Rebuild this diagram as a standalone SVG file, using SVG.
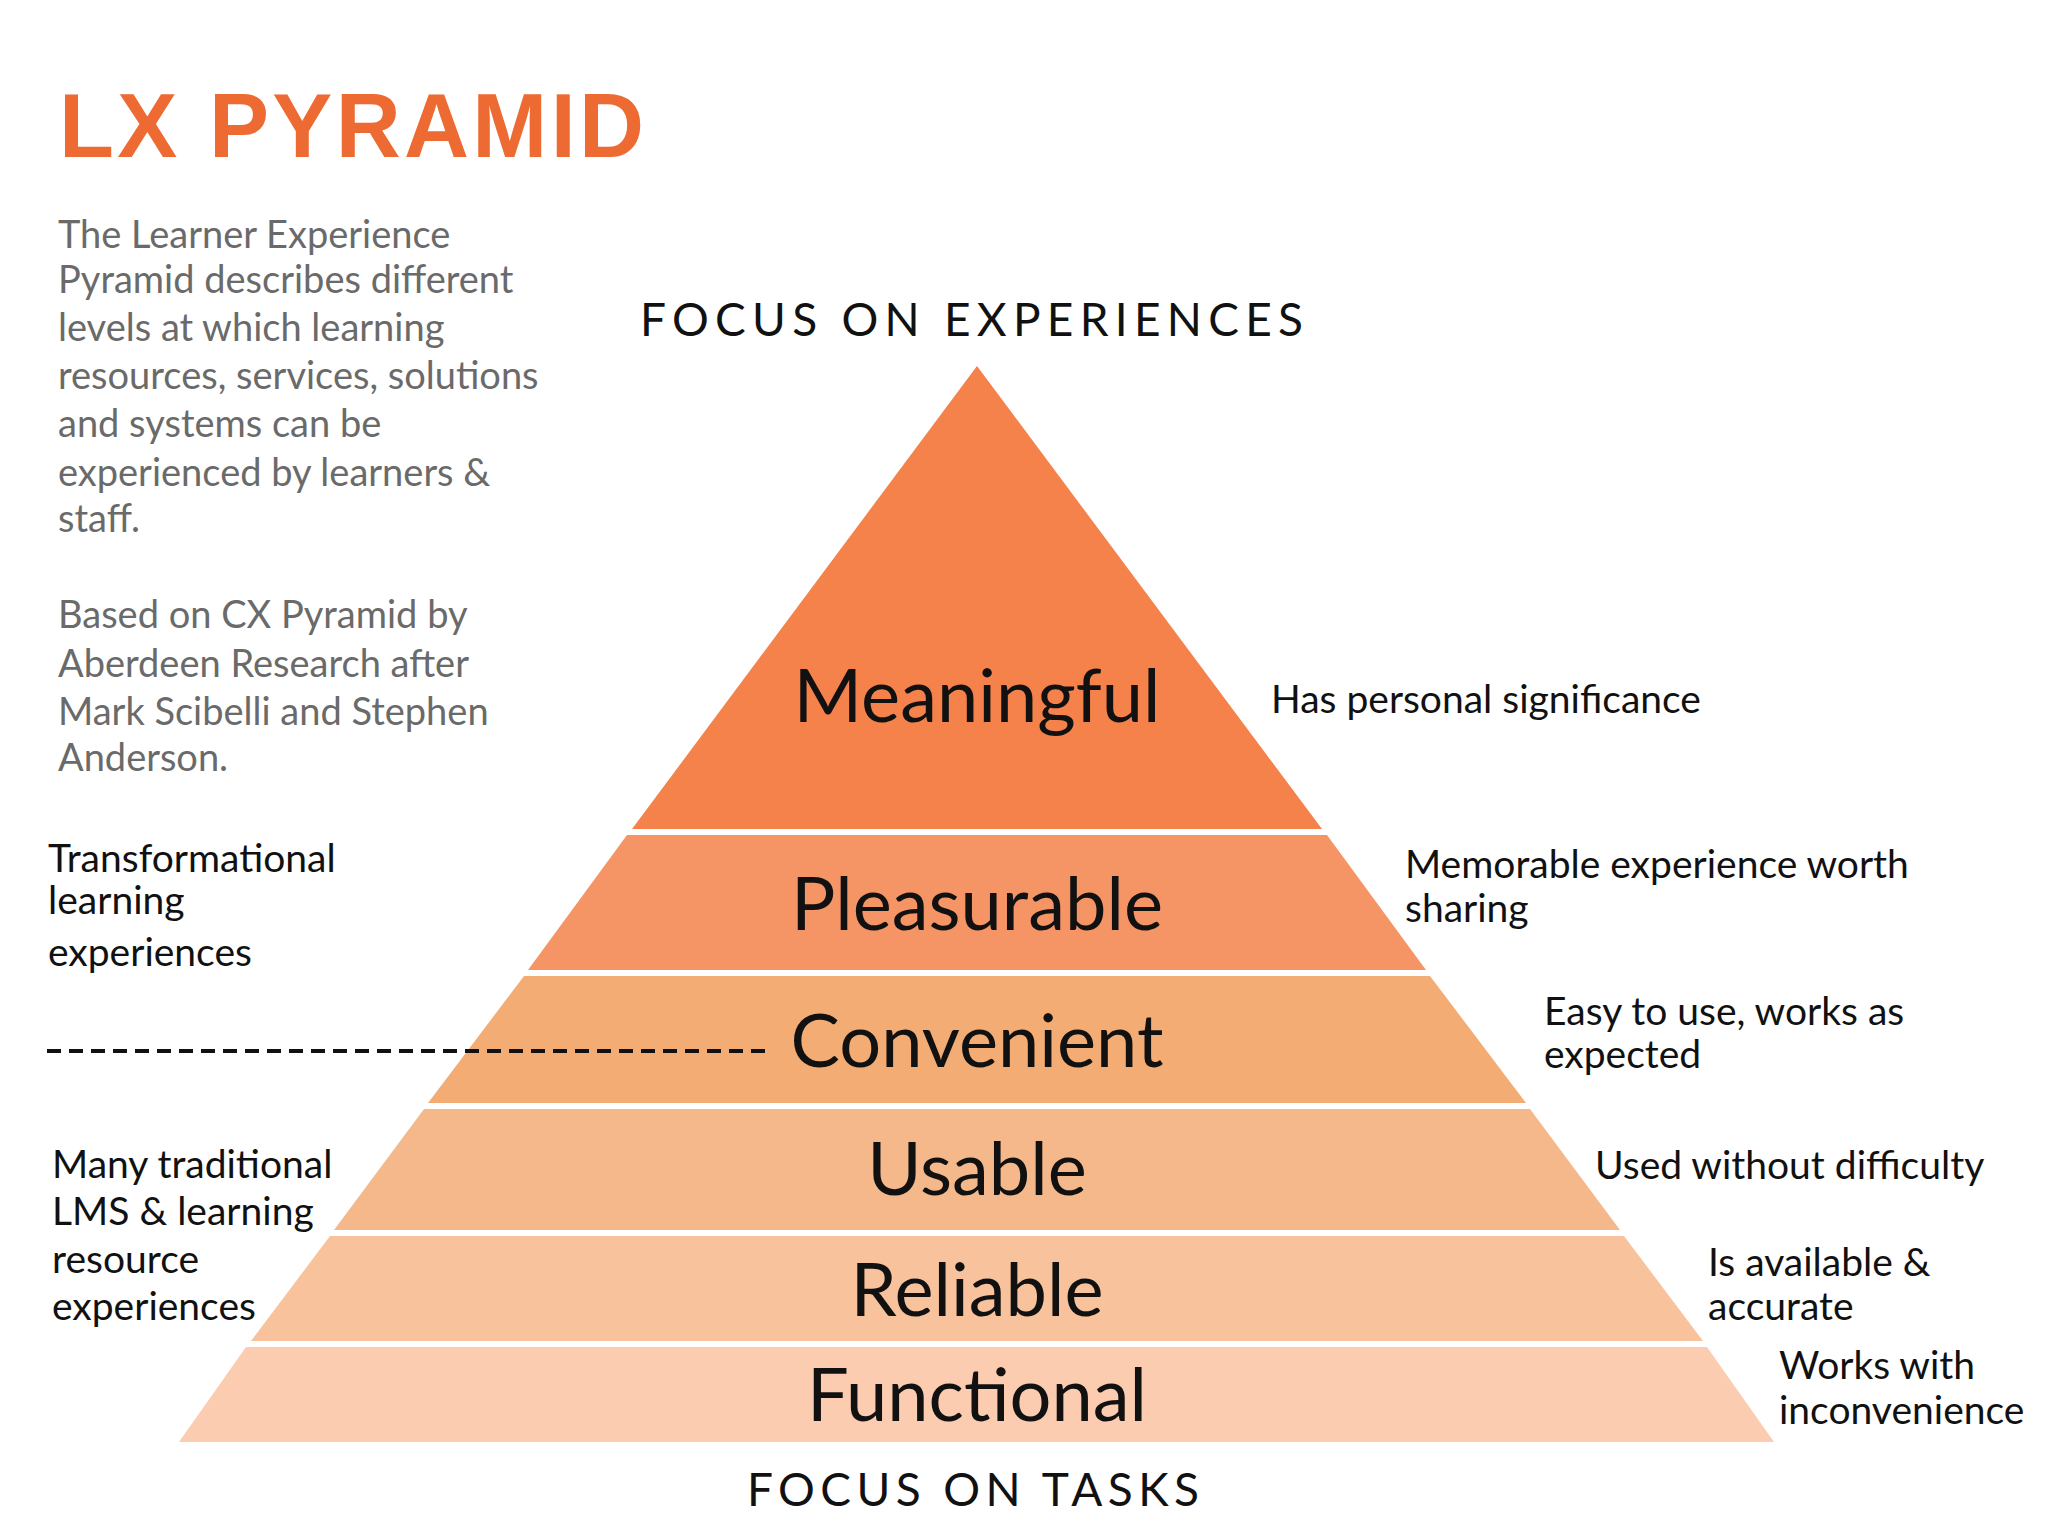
<svg xmlns="http://www.w3.org/2000/svg" width="2048" height="1536" viewBox="0 0 2048 1536">
<style>
text{font-family:Lato,"Noto Sans",sans-serif}
.t{fill:#EE6A33;font-weight:bold;font-size:90px;font-family:"Liberation Sans",Arial,sans-serif}
.d{fill:#6a6a6a;font-size:38px}
.h{fill:#111;font-size:46px}
.l{fill:#111;font-size:74px;text-anchor:middle}
.a{fill:#111;font-size:39px}
</style>
<rect width="2048" height="1536" fill="#fff"/>
<text class="t" x="59" y="157" textLength="585">LX PYRAMID</text>
<g id="desc">
<text class="d" x="58" y="248">The Learner Experience</text>
<text class="d" x="58" y="293">Pyramid describes different</text>
<text class="d" x="58" y="341">levels at which learning</text>
<text class="d" x="58" y="389">resources, services, solutions</text>
<text class="d" x="58" y="437">and systems can be</text>
<text class="d" x="58" y="486">experienced by learners &amp;</text>
<text class="d" x="58" y="532">staff.</text>
<text class="d" x="58" y="628">Based on CX Pyramid by</text>
<text class="d" x="58" y="677">Aberdeen Research after</text>
<text class="d" x="58" y="725">Mark Scibelli and Stephen</text>
<text class="d" x="58" y="771">Anderson.</text>
</g>
<text class="h" x="640" y="336" textLength="663">FOCUS ON EXPERIENCES</text>
<text class="h" x="747" y="1506" textLength="452">FOCUS ON TASKS</text>
<g id="meaningful"><polygon points="977,366 1322,829 632,829" fill="#F4824A"/><text class="l" x="977" y="722">Meaningful</text></g>
<g id="pleasurable"><polygon points="1327,835 1426,970 528,970 627,835" fill="#F59464"/><text class="l" x="977" y="930">Pleasurable</text></g>
<g id="convenient"><polygon points="1430,976 1526,1103 428,1103 524,976" fill="#F2AC74"/><text class="l" x="977" y="1067">Convenient</text></g>
<g id="usable"><polygon points="1530,1109 1620,1230 334,1230 424,1109" fill="#F5B88A"/><text class="l" x="977" y="1195">Usable</text></g>
<g id="reliable"><polygon points="1624,1236 1703,1341 251,1341 330,1236" fill="#F8C29C"/><text class="l" x="977" y="1316">Reliable</text></g>
<g id="functional"><polygon points="1707,1347 1774,1442 179,1442 246,1347" fill="#FBCCB0"/><text class="l" x="977" y="1421">Functional</text></g>
<g id="connectors"><line x1="47" y1="1051" x2="768" y2="1051" stroke="#111" stroke-width="4" stroke-dasharray="14,8"/></g>
<g id="annotations">
<text class="a" x="1271" y="713">Has personal significance</text>
<text class="a" x="1405" y="878">Memorable experience worth</text>
<text class="a" x="1405" y="922">sharing</text>
<text class="a" x="1544" y="1025">Easy to use, works as</text>
<text class="a" x="1544" y="1068">expected</text>
<text class="a" x="1595" y="1179">Used without difficulty</text>
<text class="a" x="1708" y="1276">Is available &amp;</text>
<text class="a" x="1708" y="1320">accurate</text>
<text class="a" x="1779" y="1379">Works with</text>
<text class="a" x="1779" y="1424">inconvenience</text>
<text class="a" x="48" y="872">Transformational</text>
<text class="a" x="48" y="914">learning</text>
<text class="a" x="48" y="966">experiences</text>
<text class="a" x="52" y="1178">Many traditional</text>
<text class="a" x="52" y="1225">LMS &amp; learning</text>
<text class="a" x="52" y="1273">resource</text>
<text class="a" x="52" y="1320">experiences</text>
</g>
</svg>
